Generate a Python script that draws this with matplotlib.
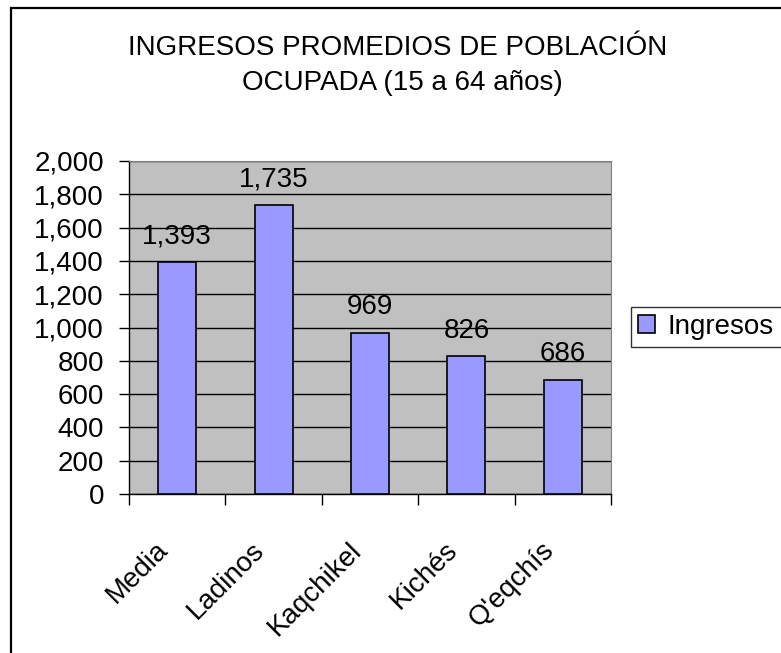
import matplotlib
matplotlib.use("Agg")
import matplotlib.pyplot as plt
from matplotlib.patches import Rectangle
from matplotlib.ticker import FuncFormatter
from matplotlib.transforms import ScaledTranslation
import numpy as np

plt.rcParams['font.family'] = ['Liberation Sans', 'DejaVu Sans']

# datos
categorias = ["Media", "Ladinos", "Kaqchikel", "Kichés", "Q'eqchís"]
ingresos = [1393, 1735, 969, 826, 686]
serie = "Ingresos"
titulo1 = "INGRESOS PROMEDIOS DE POBLACIÓN"
titulo2 = "OCUPADA (15 a 64 años)"

W, H = 781, 653
fig = plt.figure(figsize=(W / 100, H / 100), dpi=100)

# marco del grafico (solo se ve izquierda y arriba)
fig.patches.append(Rectangle((11 / W, -0.05), 1.2, 1 - 8 / H + 0.05,
                             transform=fig.transFigure, fill=False,
                             edgecolor='black', linewidth=1.6))

ax = fig.add_axes([129 / W, 1 - 494 / H, (611 - 129) / W, (494 - 161) / H])
ax.set_facecolor('#C0C0C0')

x = np.arange(len(categorias))
barras = ax.bar(x, ingresos, width=0.394, color='#9999FF', edgecolor='black',
                linewidth=1.2, zorder=3, label=serie)

for xi, v in zip(x, ingresos):
    ax.annotate(f"{v:,}", (xi, v), xytext=(0, 13.5), textcoords='offset points',
                ha='center', va='baseline', fontsize=20)

ax.set_xlim(-0.5, len(categorias) - 0.5)
ax.set_ylim(0, 2000)
ax.set_yticks(np.arange(0, 2001, 200))
ax.yaxis.set_major_formatter(FuncFormatter(lambda v, p: f"{int(v):,}"))
ax.grid(axis='y', color='black', linewidth=1, zorder=1)
ax.tick_params(axis='y', direction='out', length=7, width=1, pad=11, labelsize=20)

# marcas entre categorias, etiquetas al centro
ax.set_xticks(x)
ax.set_xticklabels(categorias, rotation=45, ha='right', va='top',
                   rotation_mode='anchor', fontsize=20)
ax.set_xticks(np.arange(-0.5, len(categorias)), minor=True)
ax.tick_params(axis='x', which='major', length=0, pad=31)
ax.tick_params(axis='x', which='minor', direction='out', length=8, width=1)
desplazamiento = ScaledTranslation(-0.22, 0, fig.dpi_scale_trans)
for lbl in ax.get_xticklabels():
    lbl.set_transform(lbl.get_transform() + desplazamiento)

for s in ['top', 'right']:
    ax.spines[s].set_color('#808080')
for s in ['left', 'bottom']:
    ax.spines[s].set_color('black')
    ax.spines[s].set_linewidth(1)

fig.text(398 / W, 1 - 55 / H, titulo1, ha='center', va='baseline', fontsize=20)
fig.text(402 / W, 1 - 90 / H, titulo2, ha='center', va='baseline', fontsize=20)

# la leyenda queda cortada por el borde derecho, como en el original
leg = fig.legend(handles=[barras], labels=[serie], loc='upper left',
                 bbox_to_anchor=(631 / W, 1 - 307 / H, 175 / W, 0),
                 mode='expand', fontsize=20,
                 frameon=True, fancybox=False, shadow=False, borderpad=0.25,
                 handlelength=0.6, handleheight=0.6, handletextpad=0.45,
                 borderaxespad=0)
leg.get_frame().set_edgecolor('black')
leg.get_frame().set_linewidth(1)

fig.savefig("out.png", dpi=100)
